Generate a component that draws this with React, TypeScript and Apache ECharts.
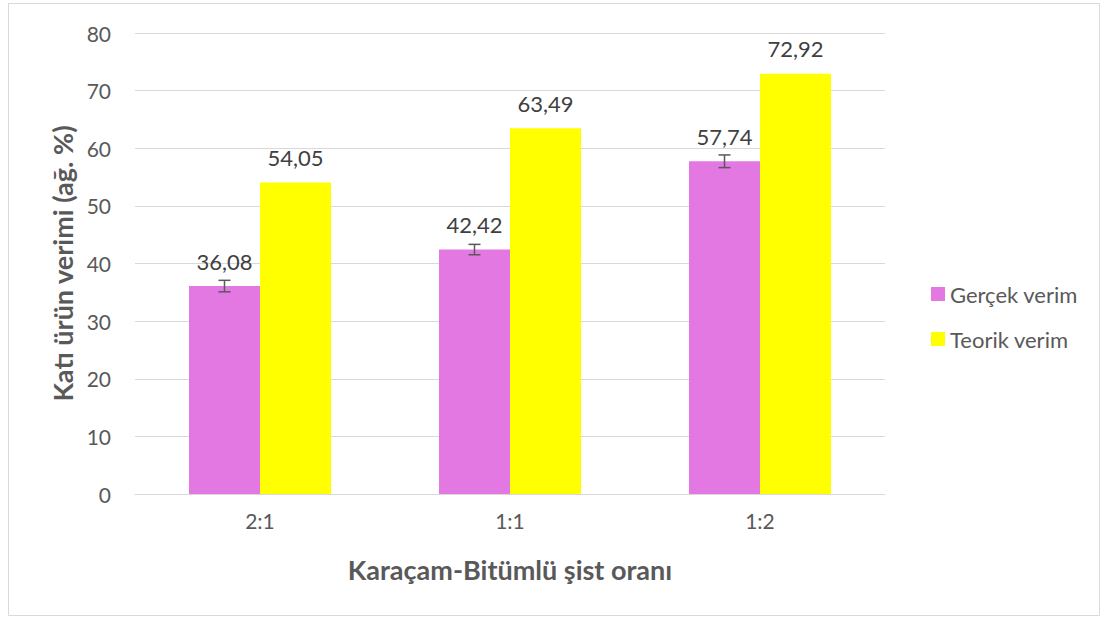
import React, { useEffect, useRef } from "react";
import * as echarts from "echarts";

const categories = ["2:1", "1:1", "1:2"];
const gercek = [36.08, 42.42, 57.74];
const gercekErr = [1.0, 0.9, 1.1];
const teorik = [54.05, 63.49, 72.92];
const seriesNames = ["Gerçek verim", "Teorik verim"];

const FONT = "Lato, 'Open Sans', sans-serif";
const fmt = (v: number) => v.toFixed(2).replace(".", ",");

export default function App() {
  const ref = useRef<HTMLDivElement>(null);
  useEffect(() => {
    const chart = echarts.init(ref.current!, null, { renderer: "svg" });
    chart.setOption({
      animation: false,
      backgroundColor: "#ffffff",
      graphic: [
        {
          type: "rect",
          shape: { x: 8.5, y: 3.5, width: 1091, height: 612 },
          style: { fill: "none", stroke: "#d9d9d9", lineWidth: 1 },
          silent: true,
        },
      ],
      grid: { left: 135, right: 220, top: 33, bottom: 127 },
      legend: {
        orient: "vertical",
        left: 926,
        top: 278,
        itemWidth: 14,
        itemHeight: 14,
        itemGap: 23,
        icon: "rect",
        textStyle: { fontFamily: FONT, fontSize: 22, color: "#595959" },
        data: seriesNames,
      },
      xAxis: {
        type: "category",
        data: categories,
        axisLine: { lineStyle: { color: "#d9d9d9" } },
        axisTick: { show: false },
        axisLabel: { fontFamily: FONT, fontSize: 21, color: "#595959", margin: 16 },
        name: "Karaçam-Bitümlü şist oranı",
        nameLocation: "middle",
        nameGap: 62,
        nameTextStyle: { fontFamily: FONT, fontSize: 27, fontWeight: "bold", color: "#595959" },
      },
      yAxis: {
        type: "value",
        min: 0,
        max: 80,
        interval: 10,
        axisLine: { show: false },
        axisTick: { show: false },
        splitLine: { lineStyle: { color: "#d9d9d9" } },
        axisLabel: { fontFamily: FONT, fontSize: 21, color: "#595959", margin: 24 },
        name: "Katı ürün verimi (ağ. %)",
        nameLocation: "middle",
        nameGap: 53,
        nameTextStyle: { fontFamily: FONT, fontSize: 27, fontWeight: "bold", color: "#595959" },
      },
      series: [
        {
          name: seriesNames[0],
          type: "bar",
          data: gercek,
          barWidth: "28.4%",
          barGap: "0%",
          itemStyle: { color: "#e378e3" },
          label: {
            show: true,
            position: "top",
            distance: 14,
            formatter: (p: any) => fmt(p.value),
            fontFamily: FONT,
            fontSize: 22,
            color: "#404040",
          },
          z: 2,
        },
        {
          name: seriesNames[1],
          type: "bar",
          data: teorik,
          barWidth: "28.4%",
          barGap: "0%",
          itemStyle: { color: "#ffff00" },
          label: {
            show: true,
            position: "top",
            distance: 14,
            formatter: (p: any) => fmt(p.value),
            fontFamily: FONT,
            fontSize: 22,
            color: "#404040",
          },
          z: 2,
        },
        {
          type: "custom",
          name: "err",
          z: 5,
          data: gercek.map((v, i) => [i, v - gercekErr[i], v + gercekErr[i]]),
          renderItem: (params: any, api: any) => {
            const idx = api.value(0);
            const lo = api.coord([idx, api.value(1)]);
            const hi = api.coord([idx, api.value(2)]);
            const band = api.size([1, 0])[0];
            const x = lo[0] - band * 0.142;
            const cap = 6;
            const st = { stroke: "#595959", lineWidth: 1.5 };
            return {
              type: "group",
              children: [
                { type: "line", shape: { x1: x, y1: lo[1], x2: x, y2: hi[1] }, style: st },
                { type: "line", shape: { x1: x - cap, y1: lo[1], x2: x + cap, y2: lo[1] }, style: st },
                { type: "line", shape: { x1: x - cap, y1: hi[1], x2: x + cap, y2: hi[1] }, style: st },
              ],
            };
          },
          encode: { x: 0, y: [1, 2] },
          silent: true,
        },
      ],
    });
    return () => chart.dispose();
  }, []);
  return (
    <div
      ref={ref}
      style={{ position: "absolute", left: 0, top: 0, width: 1105, height: 621 }}
    />
  );
}
